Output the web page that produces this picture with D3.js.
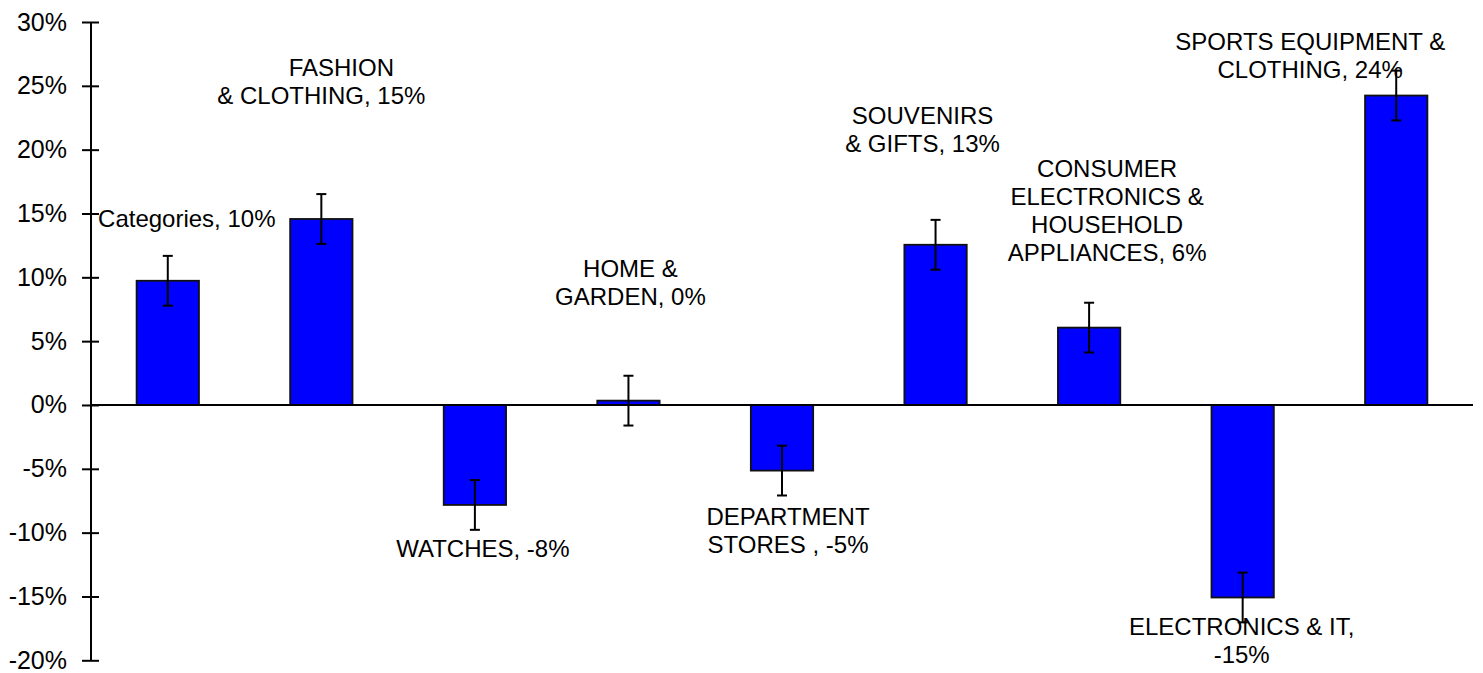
<!DOCTYPE html>
<html>
<head>
<meta charset="utf-8">
<script src="https://cdn.jsdelivr.net/npm/d3@7"></script>
<style>
  body { margin: 0; background: #fff; }
  text { font-family: "Liberation Sans", Arial, sans-serif; fill: #000; }
</style>
</head>
<body>
<div id="chart"></div>
<script>
// data
var categories = ["Categories", "FASHION & CLOTHING", "WATCHES", "HOME & GARDEN",
  "DEPARTMENT STORES", "SOUVENIRS & GIFTS",
  "CONSUMER ELECTRONICS & HOUSEHOLD APPLIANCES", "ELECTRONICS & IT",
  "SPORTS EQUIPMENT & CLOTHING"];
var values = [9.73, 14.57, -7.83, 0.34, -5.14, 12.55, 6.06, -15.08, 24.24];
var errors = [1.95, 1.95, 1.95, 1.95, 1.95, 1.95, 1.95, 1.95, 1.95];
var labelLines = [
  ["Categories, 10%"],
  ["FASHION", "& CLOTHING, 15%"],
  ["WATCHES, -8%"],
  ["HOME &", "GARDEN, 0%"],
  ["DEPARTMENT", "STORES , -5%"],
  ["SOUVENIRS", "& GIFTS, 13%"],
  ["CONSUMER", "ELECTRONICS &", "HOUSEHOLD", "APPLIANCES, 6%"],
  ["ELECTRONICS & IT,", "-15%"],
  ["SPORTS EQUIPMENT &", "CLOTHING, 24%"]
];
var yTicks = [-20, -15, -10, -5, 0, 5, 10, 15, 20, 25, 30];

// label placement (offset from bar centre, first baseline), layout only
var labelPos = [
  [19, 227], [0, 76], [8, 557], [2, 277], [6, 525],
  [-13, 124], [18, 177], [-1, 635], [-86, 50]
];
// first line of the fashion label sits a bit to the right
var lineShift = { "FASHION": 20 };

var width = 1483, height = 673;
var svg = d3.select("#chart").append("svg")
  .attr("width", width)
  .attr("height", height);

var x = d3.scaleBand()
  .domain(categories)
  .range([91, 1473])
  .paddingInner(0.594)
  .paddingOuter(0.297);

var y = d3.scaleLinear()
  .domain([-20, 30])
  .range([660.3, 22]);

// bars
svg.selectAll(".bar")
  .data(values)
  .enter()
  .append("rect")
  .attr("x", (d, i) => x(categories[i]))
  .attr("width", x.bandwidth())
  .attr("y", d => y(Math.max(0, d)))
  .attr("height", d => Math.abs(y(d) - y(0)))
  .attr("fill", "#0000ff")
  .attr("stroke", "#111")
  .attr("stroke-width", 1.8);

// zero line
svg.append("line")
  .attr("x1", 91).attr("x2", 1473)
  .attr("y1", y(0)).attr("y2", y(0))
  .attr("stroke", "#000")
  .attr("stroke-width", 2);

// y axis
var yAxis = svg.append("g")
  .attr("transform", "translate(91,0)")
  .call(d3.axisLeft(y).tickValues(yTicks).tickSize(9).tickPadding(15)
    .tickFormat(d => d + "%"));
yAxis.select(".domain").attr("stroke-width", 2).attr("d", "M0," + y(30) + "V" + y(-20));
yAxis.selectAll(".tick line").attr("x1", 8).attr("x2", -9).attr("stroke-width", 2);
yAxis.selectAll(".tick text")
  .style("font-family", '"Liberation Sans", Arial, sans-serif')
  .style("font-size", "25px")
  .attr("fill", "#000");

// error bars
var err = svg.selectAll(".err")
  .data(values)
  .enter()
  .append("g")
  .attr("transform", (d, i) => "translate(" + (x(categories[i]) + x.bandwidth() / 2) + ",0)");
err.append("line")
  .attr("y1", (d, i) => y(d + errors[i]))
  .attr("y2", (d, i) => y(d - errors[i]))
  .attr("stroke", "#000").attr("stroke-width", 2);
err.append("line")
  .attr("x1", -5).attr("x2", 5)
  .attr("y1", (d, i) => y(d + errors[i])).attr("y2", (d, i) => y(d + errors[i]))
  .attr("stroke", "#000").attr("stroke-width", 2);
err.append("line")
  .attr("x1", -5).attr("x2", 5)
  .attr("y1", (d, i) => y(d - errors[i])).attr("y2", (d, i) => y(d - errors[i]))
  .attr("stroke", "#000").attr("stroke-width", 2);

// data labels
labelLines.forEach(function (lines, i) {
  var cx = x(categories[i]) + x.bandwidth() / 2 + labelPos[i][0];
  var t = svg.append("text")
    .attr("text-anchor", "middle")
    .style("font-size", "24px");
  lines.forEach(function (line, j) {
    t.append("tspan")
      .attr("x", cx + (lineShift[line] || 0))
      .attr("y", labelPos[i][1] + j * 28)
      .text(line);
  });
});
</script>
</body>
</html>
